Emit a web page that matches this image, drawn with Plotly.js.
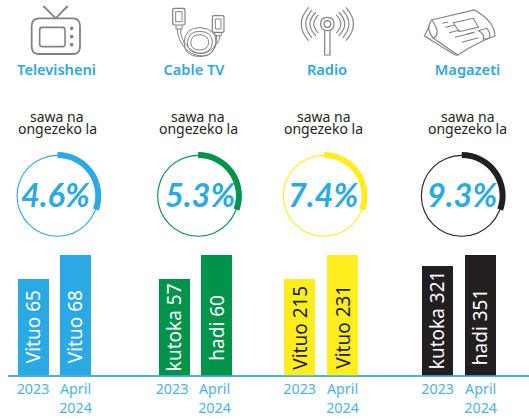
<!DOCTYPE html>
<html>
<head>
<meta charset="utf-8">
<script src="https://cdn.plot.ly/plotly-3.0.1.min.js"></script>
<style>html,body{margin:0;padding:0;background:#fff}#c{width:529px;height:419px}</style>
</head>
<body>
<div id="c"></div>
<script>
// ---- data ----
var channels = ['Televisheni', 'Cable TV', 'Radio', 'Magazeti'];
var colors = ['#2ba9e4', '#00934a', '#ffed1f', '#231f20'];
var labelColors = ['#ffffff', '#ffffff', '#231f20', '#ffffff'];
var shares = ['4.6%', '5.3%', '7.4%', '9.3%'];
var subtitleTop = 'sawa na';
var subtitleBottom = 'ongezeko la';
var tvValues = [65, 68];
var cableValues = [57, 60];
var radioValues = [215, 231];
var paperValues = [321, 351];
var tvLabels = ['Vituo 65', 'Vituo 68'];
var cableLabels = ['kutoka 57', 'hadi 60'];
var radioLabels = ['Vituo 215', 'Vituo 231'];
var paperLabels = ['kutoka 321', 'hadi 351'];
var tickLabels = ['2023', 'April<br>2024'];
// arc is drawn the same length in every ring of the source
var arcPart = [30.5, 69.5];

// ---- layout helpers (pixel positions of the composition) ----
var W = 529, H = 419;
var barX = [[33.5, 75.5], [174.5, 216.5], [299.5, 342.5], [437.5, 480.5]];
var tickX = [[33, 75.5], [172, 214.5], [299.7, 342.5], [437.7, 480.7]];
var axisFloor = [53, 45, 151, 24];
var valueSets = [tvValues, cableValues, radioValues, paperValues];
var labelSets = [tvLabels, cableLabels, radioLabels, paperLabels];
var labelY = [[327, 327], [327, 327.5], [327.5, 326.5], [320, 327]];
var ringX = [57.5, 198.1, 323.8, 461.8], ringY = 195.8;
var titleX = [56.5, 194, 327, 467.5];
var subX = [57, 198, 323.7, 467.8];
var pctX = [55.5, 200, 323, 461.7];
var FONT = '"Noto Sans", sans-serif', PFONT = 'Lato, sans-serif', BLUE = '#2ba9e4', GREY = '#808285';

var traces = [], annos = [], shapes = [], layoutAxes = {};
function dom(cx, r) { return [(cx - r) / W, (cx + r) / W]; }
function domY(cy, r) { return [1 - (cy + r) / H, 1 - (cy - r) / H]; }

traces.push({
  type: 'scatter', mode: 'text', xaxis: 'x', yaxis: 'y', x: titleX, y: [71, 71, 71, 71],
  text: channels, textposition: 'middle center', hoverinfo: 'skip', showlegend: false,
  textfont: { family: FONT, size: 14.6, color: BLUE, weight: 600 }
});

channels.forEach(function (c, i) {
  var axName = 'yaxis' + (i + 2), ref = 'y' + (i + 2);
  layoutAxes[axName] = {
    domain: [1 - 375.3 / H, 1 - 255 / H], range: [axisFloor[i], Math.max.apply(null, valueSets[i])],
    visible: false, fixedrange: true, anchor: 'x'
  };
  traces.push({
    type: 'bar', xaxis: 'x', yaxis: ref, x: barX[i], y: valueSets[i], width: 31,
    marker: { color: colors[i], line: { width: 0 } }, hoverinfo: 'y', showlegend: false
  });
  labelSets[i].forEach(function (t, j) {
    annos.push({
      xref: 'x', yref: 'y', x: barX[i][j] - 0.3, y: labelY[i][j], text: t, textangle: -90,
      showarrow: false, xanchor: 'center', yanchor: 'middle',
      font: { family: FONT, size: 19, color: labelColors[i] }
    });
  });
  // thin full ring
  traces.push({
    type: 'pie', values: [100], hole: 1 - 1.1 / 41, sort: false, textinfo: 'none', hoverinfo: 'skip',
    showlegend: false, domain: { x: dom(ringX[i], 41), y: domY(ringY, 41) },
    marker: { colors: [colors[i]], line: { width: 0 } }
  });
  // thick arc
  traces.push({
    type: 'pie', values: arcPart, hole: 1 - 6 / 43.8, sort: false, direction: 'clockwise', rotation: 0,
    textinfo: 'none', hoverinfo: 'skip', showlegend: false,
    domain: { x: dom(ringX[i], 43.8), y: domY(ringY, 43.8) },
    marker: { colors: [colors[i], 'rgba(0,0,0,0)'], line: { width: 0 } }
  });
  annos.push({ xref: 'x', yref: 'y', x: subX[i], y: 116, text: subtitleTop, showarrow: false,
    font: { family: FONT, size: 14, color: '#231f20' } });
  annos.push({ xref: 'x', yref: 'y', x: subX[i], y: 128.6, text: subtitleBottom, showarrow: false,
    font: { family: FONT, size: 14, color: '#231f20' } });
  annos.push({ xref: 'x', yref: 'y', x: pctX[i], y: 194, text: '<b><i>' + shares[i] + '</i></b>', showarrow: false,
    font: { family: PFONT, size: 32.5, color: BLUE, weight: 900 } });
});

// ---- icons, drawn in the 3x zoom coordinates of the source ----
function icon(path, ox) {
  return path.replace(/(-?[\d.]+),(-?[\d.]+)/g, function (m, a, b) {
    return (ox + a / 3).toFixed(2) + ',' + (b / 3).toFixed(2);
  });
}
function ico(path, ox, w) {
  shapes.push({ type: 'path', xref: 'x', yref: 'y', path: icon(path, ox), line: { color: GREY, width: w || 1.3 } });
}
// TV
ico('M118,55 L218,55 Q240,55 240,78 L240,140 Q240,162 218,162 L118,162 Q95,162 95,140 L95,78 Q95,55 118,55 Z', 0, 1.8);
ico('M126,82 L188,82 Q195,82 195,89 L195,133 Q195,140 188,140 L126,140 Q119,140 119,133 L119,89 Q119,82 126,82 Z', 0, 1.6);
ico('M130,18 L167,55 L203,18', 0, 1.8);
[85, 110, 134].forEach(function (y) {
  shapes.push({ type: 'circle', xref: 'x', yref: 'y', x0: 69.9, x1: 73.5, y0: y / 3 - 1.8, y1: y / 3 + 1.8,
    fillcolor: GREY, line: { width: 0 } });
});
// Cable
ico('M524,25 L550,25 Q555,25 555,30 L555,70 Q555,75 550,75 L524,75 Q518,75 518,70 L518,30 Q518,25 524,25 Z', 0, 1.2);
ico('M527,35 L546,35 L546,65 L527,65 Z M528,75 L528,87 L546,87 L546,75', 0, 1);
ico('M642,47 L667,47 Q672,47 672,52 L672,92 Q672,97 667,97 L642,97 Q637,97 637,92 L637,52 Q637,47 642,47 Z', 0, 1.2);
ico('M646,57 L663,57 L663,87 L646,87 Z M645,97 L645,107 L664,107 L664,97', 0, 1);
ico('M532,87 Q532,120 560,150 Q590,175 625,165 Q650,150 650,107', 0, 1);
ico('M542,87 Q540,118 566,143 Q592,168 620,158 Q658,135 660,107', 0, 1);
ico('M552,128 Q555,82 600,83 Q648,86 648,125 Q645,170 598,170 Q552,168 552,128 Z', 0, 1);
ico('M562,128 Q565,94 600,94 Q638,96 637,127 Q634,160 598,160 Q562,158 562,128 Z', 0, 1);
ico('M572,128 Q574,104 600,104 Q626,106 626,128 Q624,150 598,150 Q574,150 572,128 Z', 0, 1);
// Radio
function arc(cx, cy, r, a0, a1) {
  var rad = Math.PI / 180, am = (a0 + a1) / 2, h = (a1 - a0) / 2;
  var s = 'M' + (cx + r * Math.cos(a0 * rad)).toFixed(1) + ',' + (cy + r * Math.sin(a0 * rad)).toFixed(1);
  var rc = r / Math.cos(h * rad);
  s += ' Q' + (cx + rc * Math.cos(am * rad)).toFixed(1) + ',' + (cy + rc * Math.sin(am * rad)).toFixed(1);
  s += ' ' + (cx + r * Math.cos(a1 * rad)).toFixed(1) + ',' + (cy + r * Math.sin(a1 * rad)).toFixed(1);
  return s;
}
[75, 62, 49, 38].forEach(function (r, k) {
  var sp = r > 55 ? 42 : 46;
  ico(arc(187, 72, r, -sp, sp), 265, 1.1);
  ico(arc(187, 72, r, 180 - sp, 180 + sp), 265, 1.1);
});
ico('M187,52 Q207,52 207,72 Q207,92 187,92 Q167,92 167,72 Q167,52 187,52 Z', 265, 1.2);
ico('M187,62 Q197,62 197,72 Q197,82 187,82 Q177,82 177,72 Q177,62 187,62 Z', 265, 1.2);
ico('M179,90 L179,165 L195,165 L195,90', 265, 1.2);
// Newspaper
ico('M500,60 L628,30 Q690,65 690,108 Q640,125 578,165 L505,115 Q530,100 500,60 Z', 265, 1.2);
ico('M500,60 Q480,85 505,115', 265, 1.1);
ico('M492,80 L478,108 L570,165 L578,165', 265, 1.1);
ico('M565,68 L625,55 L640,82 L582,95 Z', 265, 1.1);
ico('M640,92 L665,85 Q680,100 672,115 L655,118 Q660,100 640,92 Z', 265, 1.1);
ico('M532,70 L550,66 M540,82 L570,76 M552,98 L585,90 M570,112 L625,98 M590,127 L640,113 M605,102 L630,96', 265, 1.1);

var layout = Object.assign({
  width: W, height: H, margin: { l: 0, r: 0, t: 0, b: 0 }, paper_bgcolor: '#fff', plot_bgcolor: 'rgba(0,0,0,0)',
  showlegend: false, bargap: 0,
  xaxis: {
    domain: [8 / W, 1], range: [8, W], anchor: 'y2', fixedrange: true, showgrid: false, zeroline: false,
    showline: true, linecolor: '#45b1e4', linewidth: 1.6, ticks: '', tickmode: 'array',
    tickvals: [].concat.apply([], tickX),
    ticktext: [].concat(tickLabels, tickLabels, tickLabels, tickLabels),
    tickfont: { family: FONT, size: 14.3, color: '#4bb4e6' }, tickangle: 0
  },
  yaxis: { domain: [0, 1], range: [H, 0], visible: false, fixedrange: true, anchor: 'x' },
  annotations: annos, shapes: shapes
}, layoutAxes);

Plotly.newPlot('c', traces, layout, { staticPlot: true, displayModeBar: false });
</script>
</body>
</html>
